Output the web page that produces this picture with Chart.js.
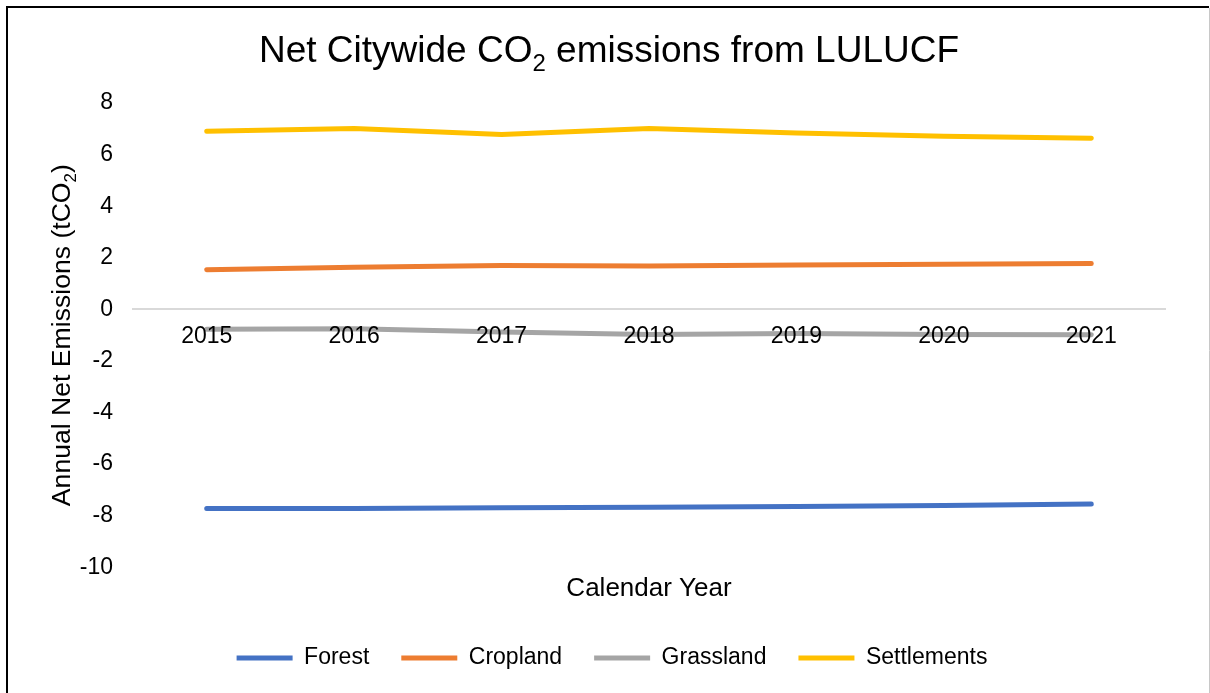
<!DOCTYPE html>
<html>
<head>
<meta charset="utf-8">
<script src="https://cdn.jsdelivr.net/npm/chart.js@4/dist/chart.umd.min.js"></script>
<style>
  html, body { margin: 0; padding: 0; background: #fff; }
  canvas { display: block; }
</style>
</head>
<body>
<canvas id="myChart" width="1210" height="693"></canvas>
<script>
// chart data
const years = ['2015', '2016', '2017', '2018', '2019', '2020', '2021'];
const forest = [-7.72, -7.72, -7.69, -7.67, -7.64, -7.60, -7.55];
const cropland = [1.54, 1.63, 1.70, 1.68, 1.72, 1.75, 1.78];
const grassland = [-0.77, -0.75, -0.88, -0.97, -0.94, -0.97, -0.98];
const settlements = [6.90, 7.01, 6.78, 7.01, 6.84, 6.71, 6.63];
const yTicks = { min: -10, max: 8, step: 2 };

const FONT = '"Liberation Sans", Arial, sans-serif';
Chart.defaults.font.family = FONT;
Chart.defaults.color = '#000';

// draws a text run where some pieces are subscripts (CO2)
function drawRuns(ctx, runs, size, cx, y) {
  const subSize = Math.round(size * 0.65);
  let total = 0;
  runs.forEach(r => {
    ctx.font = (r.sub ? subSize : size) + 'px ' + FONT;
    r.w = ctx.measureText(r.t).width;
    total += r.w;
  });
  let x = cx - total / 2;
  ctx.textAlign = 'left';
  ctx.textBaseline = 'alphabetic';
  runs.forEach(r => {
    ctx.font = (r.sub ? subSize : size) + 'px ' + FONT;
    ctx.fillText(r.t, x, r.sub ? y + size * 0.24 : y);
    x += r.w;
  });
}

const framePlugin = {
  id: 'frame',
  beforeDraw(chart) {
    const ctx = chart.ctx;
    ctx.save();
    ctx.fillStyle = '#fff';
    ctx.fillRect(0, 0, chart.width, chart.height);
    ctx.strokeStyle = '#000';
    ctx.lineWidth = 2;
    ctx.beginPath();
    ctx.moveTo(7, chart.height);
    ctx.lineTo(7, 7);
    ctx.lineTo(chart.width - 1, 7);
    ctx.stroke();
    ctx.strokeStyle = '#c8c8c8';
    ctx.lineWidth = 1;
    ctx.beginPath();
    ctx.moveTo(chart.width - 0.5, 8);
    ctx.lineTo(chart.width - 0.5, chart.height);
    ctx.stroke();
    ctx.restore();
  },
  afterDraw(chart) {
    const ctx = chart.ctx;
    const area = chart.chartArea;
    ctx.save();
    ctx.fillStyle = '#000';
    // chart title
    drawRuns(ctx, [
      { t: 'Net Citywide CO' }, { t: '2', sub: true }, { t: ' emissions from LULUCF' }
    ], 37, 609, 62);
    // y axis title, rotated
    ctx.translate(70, (area.top + area.bottom) / 2);
    ctx.rotate(-Math.PI / 2);
    drawRuns(ctx, [
      { t: 'Annual Net Emissions (tCO' }, { t: '2', sub: true }, { t: ')' }
    ], 26.6, 0, 0);
    ctx.restore();
  }
};

const ctx = document.getElementById('myChart');

const lineSet = (label, data, color) => ({
  label: label,
  data: data,
  borderColor: color,
  backgroundColor: color,
  borderWidth: 5,
  borderCapStyle: 'round',
  borderJoinStyle: 'round',
  pointRadius: 0,
  pointStyle: 'line',
  tension: 0
});

const myChart = new Chart(ctx, {
  type: 'line',
  data: {
    labels: years,
    datasets: [
      lineSet('Forest', forest, '#4472C4'),
      lineSet('Cropland', cropland, '#ED7D31'),
      lineSet('Grassland', grassland, '#A5A5A5'),
      lineSet('Settlements', settlements, '#FFC000')
    ]
  },
  options: {
    responsive: false,
    animation: false,
    devicePixelRatio: 1,
    layout: { padding: { top: 103, left: 59, right: 45, bottom: 13.5 } },
    scales: {
      x: {
        position: { y: 0 },
        offset: true,
        grid: { display: false, drawTicks: false },
        border: { display: true, color: '#d9d9d9', width: 2 },
        ticks: { font: { size: 23 }, color: '#000', padding: 14, z: 1, maxRotation: 0 }
      },
      y: {
        min: yTicks.min,
        max: yTicks.max,
        grid: { display: false, drawTicks: false },
        border: { display: false },
        ticks: { stepSize: yTicks.step, font: { size: 23 }, color: '#000', padding: 20 },
        afterFit(scale) { scale.width = 74; }
      }
    },
    plugins: {
      title: { display: false },
      subtitle: {
        display: true,
        text: 'Calendar Year',
        position: 'bottom',
        weight: 500,
        fullSize: false,
        color: '#000',
        font: { size: 26, weight: 'normal' },
        padding: { top: 6, bottom: 10 }
      },
      legend: {
        position: 'bottom',
        labels: {
          usePointStyle: true,
          pointStyle: 'line',
          pointStyleWidth: 56,
          padding: 32,
          color: '#000',
          font: { size: 23 }
        }
      },
      tooltip: { enabled: false }
    }
  },
  plugins: [framePlugin]
});
</script>
</body>
</html>
